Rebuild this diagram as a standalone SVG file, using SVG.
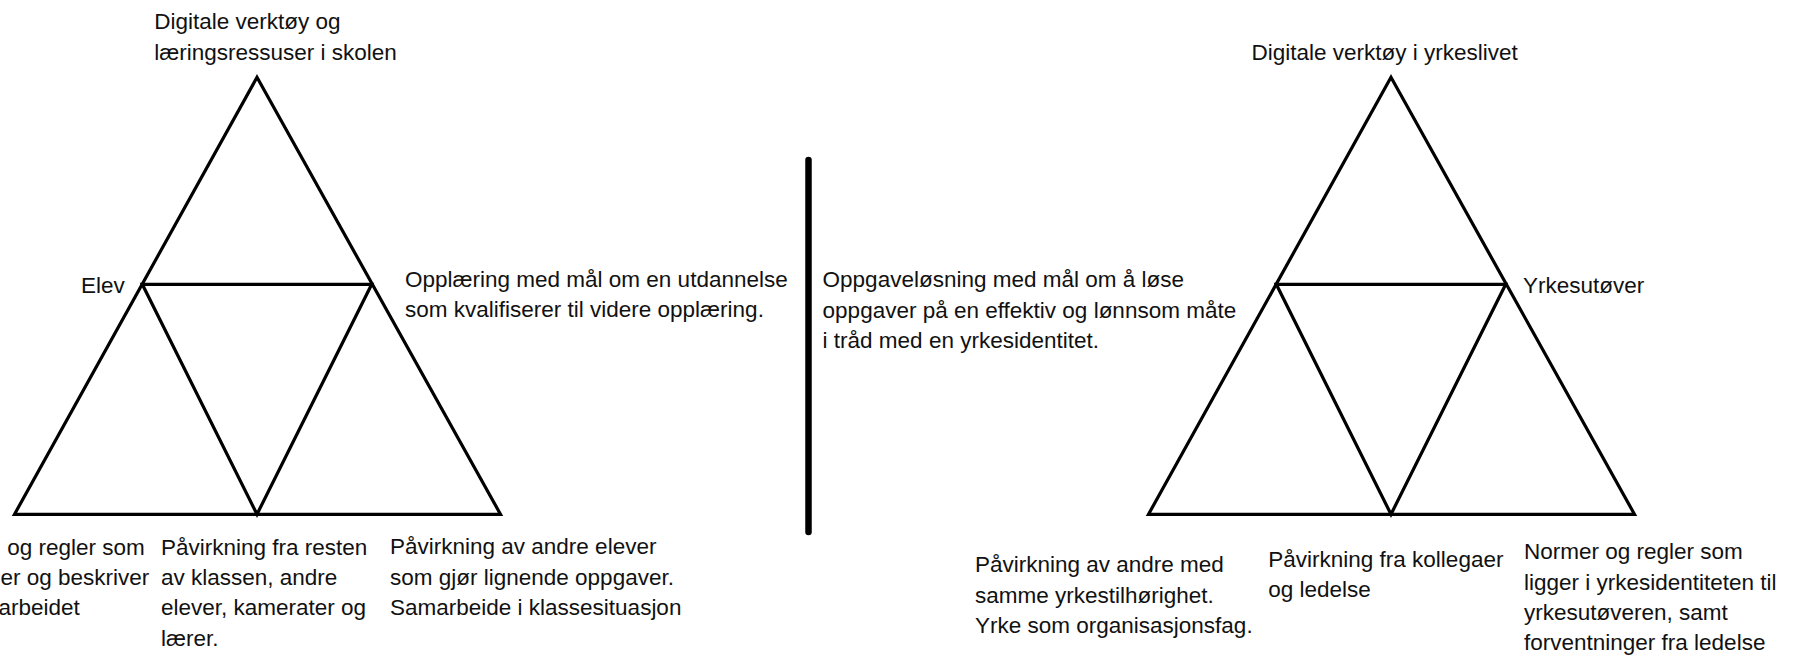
<svg xmlns="http://www.w3.org/2000/svg" width="1809" height="656" viewBox="0 0 1809 656">
<style>
.tri{fill:none;stroke:#000;stroke-width:3.2;stroke-linejoin:miter}
.t{font-family:"Liberation Sans",Arial,sans-serif;font-size:22.5px;fill:#111}
</style>
<rect width="1809" height="656" fill="#fff"/>
<g id="connectors">
<line id="divider" x1="808.5" y1="160" x2="808.5" y2="532" stroke="#000" stroke-width="6.5" stroke-linecap="round"/>
</g>
<g id="triangle-school">
<polygon class="tri" points="257,77.3 14.5,514.3 500.5,514.3"/>
<polygon class="tri" points="142.3,284.3 371.7,284.3 257,514.3"/>
</g>
<g id="triangle-work">
<polygon class="tri" points="1391,77.3 1148.5,514.3 1634.5,514.3"/>
<polygon class="tri" points="1276.3,284.3 1505.7,284.3 1391,514.3"/>
</g>
<g id="label-tools-school">
<text class="t" x="154.3" y="29.3">Digitale verktøy og</text>
<text class="t" x="154.3" y="59.7">læringsressuser i skolen</text>
</g>
<g id="label-elev"><text class="t" x="81" y="293.3">Elev</text></g>
<g id="label-opplaering">
<text class="t" x="405" y="286.7">Opplæring med mål om en utdannelse</text>
<text class="t" x="405" y="317.3">som kvalifiserer til videre opplæring.</text>
</g>
<g id="label-oppgavelosning">
<text class="t" x="822.6" y="287.3">Oppgaveløsning med mål om å løse</text>
<text class="t" x="822.6" y="317.7">oppgaver på en effektiv og lønnsom måte</text>
<text class="t" x="822.6" y="348.1">i tråd med en yrkesidentitet.</text>
</g>
<g id="label-tools-work"><text class="t" x="1251.5" y="60">Digitale verktøy i yrkeslivet</text></g>
<g id="label-yrkesutover"><text class="t" x="1523" y="293.3">Yrkesutøver</text></g>
<g id="label-normer-school">
<text class="t" x="7.3" y="554.8">og regler som</text>
<text class="t" x="0.5" y="585.1">er og beskriver</text>
<text class="t" x="-1.5" y="615.4">arbeidet</text>
</g>
<g id="label-klassen">
<text class="t" x="161" y="554.6">Påvirkning fra resten</text>
<text class="t" x="161" y="584.9">av klassen, andre</text>
<text class="t" x="161" y="615.2">elever, kamerater og</text>
<text class="t" x="161" y="645.5">lærer.</text>
</g>
<g id="label-elever">
<text class="t" x="390" y="554.3">Påvirkning av andre elever</text>
<text class="t" x="390" y="584.6">som gjør lignende oppgaver.</text>
<text class="t" x="390" y="614.9">Samarbeide i klassesituasjon</text>
</g>
<g id="label-yrkestilhorighet">
<text class="t" x="975" y="572">Påvirkning av andre med</text>
<text class="t" x="975" y="602.5">samme yrkestilhørighet.</text>
<text class="t" x="975" y="633">Yrke som organisasjonsfag.</text>
</g>
<g id="label-kollegaer">
<text class="t" x="1268.3" y="566.7">Påvirkning fra kollegaer</text>
<text class="t" x="1268.3" y="597">og ledelse</text>
</g>
<g id="label-normer-work">
<text class="t" x="1524" y="559.3">Normer og regler som</text>
<text class="t" x="1524" y="589.6">ligger i yrkesidentiteten til</text>
<text class="t" x="1524" y="619.9">yrkesutøveren, samt</text>
<text class="t" x="1524" y="650.2">forventninger fra ledelse</text>
</g>
</svg>
